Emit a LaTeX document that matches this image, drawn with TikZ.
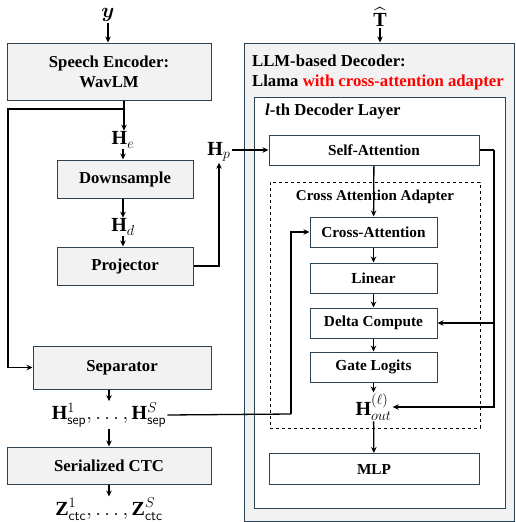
\documentclass[tikz,border=0pt]{standalone}
\usepackage{amsmath,bm}
\usepackage{fontspec}
\setmainfont{Liberation Serif}
\usetikzlibrary{arrows.meta}

\definecolor{boxline}{HTML}{2A4456}
\definecolor{boxfill}{HTML}{F2F2F2}

\begin{document}
\begin{tikzpicture}[x=1pt,y=-1pt,
		box/.style={draw=boxline,line width=1pt,align=center,inner sep=0pt},
		graybox/.style={box,fill=boxfill,font=\fontsize{16.7}{20}\selectfont\bfseries},
		whitebox/.style={box,fill=white,font=\fontsize{15.3}{18}\selectfont\bfseries},
		lab/.style={font=\fontsize{20}{22}\selectfont,inner sep=1pt},
		title/.style={anchor=west,inner sep=0pt,font=\fontsize{16.7}{20}\selectfont\bfseries},
		arr/.style={-{Stealth[length=6pt,width=5.5pt]},line width=1.3pt},
		ln/.style={line width=1.3pt}]
		
		\useasboundingbox (0,0) rectangle (516,522);
		
		% encoder side
		\node[lab] (y) at (108,15) {$\bm{y}$};
		\node[graybox,minimum width=204pt,minimum height=57pt] (enc) at (109,71.5) {Speech Encoder:\\WavLM};
		\node[lab] (He) at (123,140) {$\mathbf{H}_e$};
		\node[graybox,minimum width=136pt,minimum height=38pt] (down) at (125,179) {Downsample};
		\node[lab] (Hd) at (123,227) {$\mathbf{H}_d$};
		\node[graybox,minimum width=136pt,minimum height=38pt] (proj) at (125,266) {Projector};
		\node[lab] (Hp) at (219,152) {$\mathbf{H}_p$};
		\node[graybox,minimum width=178pt,minimum height=43pt] (sep) at (122,367.5) {Separator};
		\node[lab] (Hsep) at (109,415) {$\mathbf{H}_{\mathsf{sep}}^1,\dots,\mathbf{H}_{\mathsf{sep}}^S$};
		\node[graybox,minimum width=204pt,minimum height=37pt] (ctc) at (109,465.5) {Serialized CTC};
		\node[lab] (Z) at (109,509) {$\mathbf{Z}_{\mathsf{ctc}}^1,\dots,\mathbf{Z}_{\mathsf{ctc}}^S$};
		
		% decoder side
		\node[lab] (That) at (380,17) {$\widehat{\mathbf{T}}$};
		\node[graybox,minimum width=270pt,minimum height=478pt] (llm) at (379,282) {};
		\node[title] (llmt) at (252,61) {LLM-based Decoder:};
		\node[title] (llmt2) at (252,82) {Llama \textcolor{red}{with cross-attention adapter}};
		\node[box,fill=white,minimum width=251pt,minimum height=411pt] (layer) at (379.5,302.5) {};
		\node[title] (layert) at (265,112) {\textit{l}-th Decoder Layer};
		\node[whitebox,minimum width=210pt,minimum height=30pt] (self) at (374,150) {Self-Attention};
		\node[draw,dashed,line width=0.8pt,minimum width=210pt,minimum height=246pt] (adp) at (375,305) {};
		\node[font=\fontsize{15}{18}\selectfont\bfseries] (adpt) at (375,197) {Cross Attention Adapter};
		\node[whitebox,minimum width=127pt,minimum height=30pt] (xatt) at (373.5,232) {Cross-Attention};
		\node[whitebox,minimum width=127pt,minimum height=30pt] (lin) at (373.5,278) {Linear};
		\node[whitebox,minimum width=127pt,minimum height=30pt] (delta) at (373.5,323) {Delta Compute};
		\node[whitebox,minimum width=127pt,minimum height=30pt] (gate) at (373.5,367) {Gate Logits};
		\node[lab] (Hout) at (373.5,407) {$\mathbf{H}_{out}^{(\ell)}$};
		\node[whitebox,minimum width=210pt,minimum height=31pt] (mlp) at (374,469) {MLP};
		
		% connectors, left
		\coordinate (br) at (124,109);
		\coordinate (lft) at (8,109);
		\draw[arr] (y) -- (y |- enc.north);
		\draw[ln] (enc.south -| br) -- (br);
		\draw[arr] (br) -- (He.north -| br);
		\draw[arr] (br) -- (lft) |- (sep.west);
		\draw[arr] (He.south) -- (He.south |- down.north);
		\draw[arr] (down.south -| Hd.north) -- (Hd.north);
		\draw[arr] (Hd.south) -- (Hd.south |- proj.north);
		\draw[arr] (proj.east) -| (Hp.south);
		\draw[arr] (Hp.east |- self.west) -- (self.west);
		\draw[arr] (sep.south -| Hsep.north) -- (Hsep.north);
		\draw[arr] (Hsep.south) -- (Hsep.south |- ctc.north);
		\draw[arr] (ctc.south -| Z.north) -- (Z.north);
		
		% connectors, right
		\coordinate (hx) at (291,414);
		\coordinate (rr) at (494,150);
		\draw[ln] (Hsep.east) -- (hx);
		\draw[arr] (hx) |- (xatt.west);
		\draw[arr] (That) -- (That |- llm.north);
		\draw[arr] (self) -- (xatt);
		\draw[arr] (xatt) -- (lin);
		\draw[arr] (lin) -- (delta);
		\draw[arr] (delta) -- (gate);
		\draw[arr] (gate) -- (Hout);
		\draw[arr] (Hout) -- (mlp);
		\draw[ln] (self.east) -- (rr);
		\draw[arr] (rr) |- (Hout.east);
		\draw[arr] (rr |- delta.east) -- (delta.east);
		
	\end{tikzpicture}
\end{document}
